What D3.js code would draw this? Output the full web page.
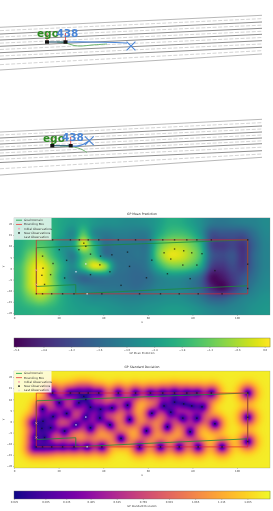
<!DOCTYPE html>
<html><head><meta charset="utf-8">
<script src="https://cdnjs.cloudflare.com/ajax/libs/d3/7.8.5/d3.min.js"></script>
<style>
html,body{margin:0;padding:0;background:#fff;overflow:hidden}
#wrap{position:relative;width:273px;height:511px;filter:blur(0.35px)}
canvas,svg{position:absolute;left:0;top:0}
text{font-family:"DejaVu Sans",sans-serif}
</style></head><body><div id="wrap"></div>
<script>
// Road panels: y of each lane line at the left and right ends
const road1SolidL=[27.3,34,40,46.3,52.7,59.3,70];
const road1SolidR=[15.3,22,28.3,34.3,40.7,47.3,54];
const road2SolidL=[132,138,144,150,156,162.5,175];
const road2SolidR=[119.3,126,132,138,143.7,150.7,157.3];
const solidShade=[0.5,0.8,0.8,0.8,0.8,0.8,0.5];
const road1Green=[[57,42],[66,43],[74,45.5],[82,46],[92,45],[107,44]];
const road1Blue=[[65.5,42],[90,42],[127,43]];
const road2Green=[[60,146],[70,146.5],[78,148],[83,150],[87,152.5]];
const road2Blue=[[70.7,146],[78,145.8],[84,144],[88,141.5]];
const gpTitles=["GP Mean Prediction","GP Standard Deviation"];
const cbLabels=["GP Mean Prediction","GP Standard Deviation"];
const legendLabels=["Goal Domain","Bounding Box","Initial Observations","New Observations","Last Observation"];
const xTicks=[0,20,40,60,80,100];
const yTicks=[20,15,10,5,0,-5,-10,-15,-20];
const meanTicks=[-5.4,-4.8,-4.2,-3.6,-3.0,-2.4,-1.8,-1.2,-0.6,0.0];
const stdTicks=[0.025,0.205,0.325,0.465,0.615,0.765,0.915,1.065,1.215,1.365];
// Observations [x,y]
const newObs=[[17.3,12.8],[25.3,12.8],[29.3,12.8],[33.3,12.8],[38,12.8],[46.8,12.8],[54.5,12.8],[61.2,12.8],[66.7,12.8],[72,12.8],[77.5,12.8],[82,12.8],[88.5,12.8],[104.8,12.8],
[31.3,11.3],[32.2,9.9],[20.3,8.4],[29.1,8.4],[12.8,5.5],[34.3,6.4],[38.8,5.5],[43.9,6.1],[50.9,7.3],[23.6,3.6],[17.5,2.2],[38.5,1.6],[51.8,0.9],[13,0.1],[43,-1.5],[16.4,-2.8],[12.5,-3.1],[34.3,-2.8],[22.7,-4.3],[13.7,-7.2],[48,-7.6],
[10,-11.4],[12.8,-11.4],[16.9,-11.4],[21.8,-11.4],[26.9,-11.4],[39.4,-11.4],[56.3,-11.4],[65.7,-11.4],[74.1,-11.4],[82.6,-11.4],[93.3,-11.4],
[67.3,7],[72,8.7],[76.1,7.9],[79.7,7],[84.3,6.6],[61.8,3.7],[70.3,4.2],[75.7,1.5],[82,1.5],[90.1,-1],[68.8,-2.4],[59.4,-4.2],[79,-4.6],[104.8,1.9],[104.8,-9]];
const initObs=[[10,-0.8],[10,-7.2]];
const lastObs=[[32.2,2],[27.8,-1.5],[32.8,-11.4]];
const boundBox=[[10,12.8],[104.8,12.8],[104.8,-11.4],[10,-11.4]];
const goalDomain=[[10,9.3],[104.8,12.8],[104.8,-7.8],[56,-10],[27.7,-11.4],[27.7,-7.3],[10,-8.1]];
// Mean surface read on a coarse grid (rows top to bottom, cols left to right)
const meanGrid=[
[-2.0,-1.8,-1.7,-1.9,-2.2,-2.4,-2.2,-2.5,-2.7,-2.7,-2.8,-2.8,-2.7,-2.4,-2.0,-2.0,-2.3,-2.7,-3.2,-3.3,-3.2,-3.1,-3.0,-2.8],
[-2.0,-1.7,-1.5,-1.8,-2.3,-2.8,-1.4,-2.8,-3.2,-3.1,-3.1,-3.2,-3.1,-2.2,-1.6,-1.5,-1.8,-2.6,-4.0,-4.0,-4.0,-4.0,-3.4,-2.9],
[-2.0,-1.6,-1.4,-1.8,-2.6,-2.4,-0.2,-1.9,-3.4,-3.3,-3.3,-3.3,-3.2,-1.5,-0.7,-0.6,-1.0,-1.9,-4.2,-4.5,-4.3,-4.6,-3.7,-3.0],
[-1.9,-1.0,-0.6,-1.5,-2.4,-3.1,-1.6,-1.6,-3.2,-3.4,-3.4,-3.3,-3.1,-1.2,-0.2,-0.2,-0.7,-1.6,-3.8,-4.2,-4.0,-4.6,-3.6,-3.0],
[-1.6,-0.5,0.0,-0.8,-2.0,-2.8,-1.5,-0.2,-0.7,-3.0,-3.4,-3.5,-3.2,-2.0,-1.2,-1.1,-1.4,-2.2,-4.3,-4.6,-4.2,-4.5,-3.6,-3.0],
[-1.6,-0.4,0.05,-0.8,-2.2,-3.2,-3.6,-3.3,-3.2,-3.4,-3.5,-3.6,-3.5,-3.0,-2.7,-2.7,-3.0,-3.6,-5.2,-5.1,-4.5,-4.0,-3.4,-2.9],
[-1.6,-0.5,0.0,-0.7,-1.9,-2.6,-3.0,-3.2,-3.3,-3.3,-3.4,-3.5,-3.3,-3.0,-2.9,-2.9,-3.2,-3.7,-4.8,-5.3,-4.6,-3.7,-3.1,-2.8],
[-1.8,-1.2,-0.8,-1.3,-2.0,-2.4,-2.6,-2.8,-2.8,-2.9,-3.0,-3.0,-2.9,-2.8,-2.7,-2.7,-2.9,-3.2,-3.7,-3.8,-3.4,-3.0,-2.8,-2.6],
[-2.0,-1.9,-1.8,-1.9,-2.1,-2.3,-2.4,-2.4,-2.5,-2.6,-2.7,-2.7,-2.6,-2.5,-2.4,-2.4,-2.5,-2.7,-2.9,-3.0,-2.9,-2.8,-2.6,-2.5]];

const W=273,H=511;
const wrap=d3.select("#wrap");
const cv=wrap.append("canvas").attr("width",W).attr("height",H).node();
const ctx=cv.getContext("2d");ctx.fillStyle="#fff";ctx.fillRect(0,0,W,H);
const svg=wrap.append("svg").attr("width",W).attr("height",H);

const xDom=[0,114.8],yDom=[-20.9,22.7];
const meanDom=[-5.44,0.115],stdDom=[0.025,1.495];
const meanColor=d3.scaleSequential(d3.interpolateViridis).domain(meanDom);
const stdColor=d3.scaleSequential(d3.interpolatePlasma).domain(stdDom);
const panels=[{top:217.8,bottom:315,cbTop:338,cbBot:347,color:meanColor,ticks:meanTicks,fmt:d3.format(".1f"),dom:meanDom,i:0,titleY:214,xlY:322.5,cblY:353.8},
 {top:371,bottom:468,cbTop:491,cbBot:499,color:stdColor,ticks:stdTicks,fmt:d3.format(".3f"),dom:stdDom,i:1,titleY:367,xlY:475.5,cblY:507}];
const L=14,R=270;

// roads
function drawRoad(g,left,right,green,blue,ego,oth,X,egoTxt,othTxt){
  const rx=d3.scaleLinear().domain([0,262]).range([0,262]);
  left.forEach((l,i)=>{
    g.append("line").attr("x1",rx(0)).attr("x2",rx(262)).attr("y1",l).attr("y2",right[i])
     .attr("stroke","#222").attr("stroke-opacity",solidShade[i]).attr("stroke-width",0.65);
    if(i<left.length-1){
      g.append("line").attr("x1",rx(0)).attr("x2",rx(262)).attr("y1",(l+left[i+1])/2).attr("y2",(right[i]+right[i+1])/2)
       .attr("stroke","#c8c8c8").attr("stroke-width",0.8).attr("stroke-dasharray","4 1.6");
    }
  });
  const line=d3.line().curve(d3.curveCatmullRom);
  g.append("path").attr("d",line(green)).attr("fill","none").attr("stroke","#6fb56f").attr("stroke-width",1);
  g.append("path").attr("d",line(blue)).attr("fill","none").attr("stroke","#4a86d8").attr("stroke-width",1.2);
  g.append("line").attr("x1",ego[0]).attr("x2",oth[0]).attr("y1",ego[1]).attr("y2",oth[1]).attr("stroke","#2f5f7a").attr("stroke-width",1.2);
  [ego,oth].forEach(p=>{
    g.append("line").attr("x1",p[0]).attr("x2",p[0]).attr("y1",p[1]-9).attr("y2",p[1]).attr("stroke","#d33").attr("stroke-width",0.8);
    g.append("rect").attr("x",p[0]-2).attr("y",p[1]-1.7).attr("width",4).attr("height",3.4).attr("fill","#111");
  });
  const s=4.4;
  g.append("path").attr("d",`M${X[0]-s},${X[1]-s}L${X[0]+s},${X[1]+s}M${X[0]-s},${X[1]+s}L${X[0]+s},${X[1]-s}`).attr("stroke","#4a86d8").attr("stroke-width",1.1).attr("fill","none");
  g.append("text").attr("x",egoTxt[0]).attr("y",egoTxt[1]).attr("fill","#2e8b22").attr("font-size",10.5).attr("font-weight","bold").text("ego");
  g.append("text").attr("x",othTxt[0]).attr("y",othTxt[1]).attr("fill","#4a86d8").attr("font-size",10.5).attr("font-weight","bold").text("438");
}
drawRoad(svg.append("g"),road1SolidL,road1SolidR,road1Green,road1Blue,[47,42],[65.5,42],[131,46],[37,36.8],[56.5,37]);
drawRoad(svg.append("g"),road2SolidL,road2SolidR,road2Green,road2Blue,[52.3,145.7],[70.7,145.7],[89.3,140.7],[43,141.5],[62,140.8]);

// GP std from the observation points
const obsAll=newObs.concat(initObs,lastObs);
const ell=4.1,sig2=1.45*1.45,noise=0.004;
const kf=(a,b)=>Math.exp(-((a[0]-b[0])**2+(a[1]-b[1])**2)/(2*ell*ell));
const n=obsAll.length;
const C=d3.range(n).map(()=>new Float64Array(n));
for(let i=0;i<n;i++)for(let j=0;j<=i;j++){
  let s=kf(obsAll[i],obsAll[j])+(i===j?noise:0);
  for(let k=0;k<j;k++)s-=C[i][k]*C[j][k];
  C[i][j]=i===j?Math.sqrt(Math.max(s,1e-9)):s/C[j][j];
}
function stdAt(p){
  let sum=0;const v=new Float64Array(n);
  for(let i=0;i<n;i++){
    let s=kf(p,obsAll[i]);
    for(let k=0;k<i;k++)s-=C[i][k]*v[k];
    v[i]=s/C[i][i];sum+=v[i]*v[i];
  }
  return Math.sqrt(Math.max(sig2*(1-sum),0)+0.0006);
}
// Catmull-Rom on the mean grid
function cr(a,b,c,d,t){return 0.5*(2*b+(c-a)*t+(2*a-5*b+4*c-d)*t*t+(3*b-a-3*c+d)*t*t*t);}
function meanAt(p){
  const rows=meanGrid.length,cols=meanGrid[0].length;
  const u=(p[0]-xDom[0])/(xDom[1]-xDom[0])*cols-0.5,v=(yDom[1]-p[1])/(yDom[1]-yDom[0])*rows-0.5;
  const iu=Math.floor(u),iv=Math.floor(v),fu=u-iu,fv=v-iv;
  const g=(r,c)=>meanGrid[Math.max(0,Math.min(rows-1,r))][Math.max(0,Math.min(cols-1,c))];
  const r=[-1,0,1,2].map(dr=>cr(g(iv+dr,iu-1),g(iv+dr,iu),g(iv+dr,iu+1),g(iv+dr,iu+2),fu));
  return cr(r[0],r[1],r[2],r[3],fv);
}

const lineGoal=d3.line();
panels.forEach(P=>{
  const x=d3.scaleLinear().domain(xDom).range([L,R]);
  const y=d3.scaleLinear().domain(yDom).range([P.bottom,P.top]);
  const f=P.i===0?meanAt:stdAt;
  for(let py=Math.round(P.top);py<Math.round(P.bottom);py++){
    for(let px=L;px<R;px++){
      ctx.fillStyle=P.color(f([x.invert(px+.5),y.invert(py+.5)]));
      ctx.fillRect(px,py,1,1);
    }
  }
  const g=svg.append("g");
  g.append("text").attr("x",(L+R)/2).attr("y",P.titleY+1).attr("text-anchor","middle").attr("font-size",3.1).attr("fill","#333").text(gpTitles[P.i]);
  g.append("rect").attr("x",L).attr("y",P.top).attr("width",R-L).attr("height",P.bottom-P.top).attr("fill","none").attr("stroke","#777").attr("stroke-opacity",.6).attr("stroke-width",.4);
  const ax=d3.axisBottom(x).tickValues(xTicks).tickSize(1).tickPadding(.8).tickSizeOuter(0);
  const ay=d3.axisLeft(y).tickValues(yTicks).tickSize(1).tickPadding(.8).tickSizeOuter(0).tickFormat(d=>d<0?"\u2212"+(-d):d);
  [[ax,`translate(0,${P.bottom})`],[ay,`translate(${L},0)`]].forEach(([a,t])=>{
    const ga=g.append("g").attr("transform",t).call(a);
    ga.select(".domain").remove();
    ga.selectAll("line").attr("stroke","#555").attr("stroke-width",.3);
    ga.selectAll("text").attr("font-size",2.6).attr("fill","#444").style("font-family",'"DejaVu Sans",sans-serif');
  });
  g.append("text").attr("x",(L+R)/2).attr("y",P.xlY).attr("text-anchor","middle").attr("font-size",2.8).attr("fill","#444").text("x");
  g.append("text").attr("transform",`translate(4,${(P.top+P.bottom)/2}) rotate(-90)`).attr("text-anchor","middle").attr("font-size",2.8).attr("fill","#444").text("y");
  // overlays
  g.append("path").attr("d",lineGoal(goalDomain.map(d=>[x(d[0]),y(d[1])]))+"Z").attr("fill","none").attr("stroke","#1d8a3a").attr("stroke-width",.8);
  g.append("path").attr("d",lineGoal(boundBox.map(d=>[x(d[0]),y(d[1])]))+"Z").attr("fill","none").attr("stroke","#e0202c").attr("stroke-width",.8).attr("stroke-opacity",.85);
  g.selectAll("rect.o").data(newObs).join("rect").attr("class","o").attr("x",d=>x(d[0])-.7).attr("y",d=>y(d[1])-.7).attr("width",1.4).attr("height",1.4).attr("fill","#111").attr("fill-opacity",.7);
  g.selectAll("path.i").data(initObs).join("path").attr("class","i").attr("d",d=>{const a=x(d[0]),b=y(d[1]),s=1.1;return `M${a-s},${b-s}L${a+s},${b+s}M${a-s},${b+s}L${a+s},${b-s}`;}).attr("stroke","#f49ab0").attr("stroke-width",.6).attr("fill","none");
  g.selectAll("rect.l").data(lastObs).join("rect").attr("class","l").attr("x",d=>x(d[0])-.7).attr("y",d=>y(d[1])-.7).attr("width",1.4).attr("height",1.4).attr("fill","#eef").attr("fill-opacity",.8);
  // legend
  const lg=g.append("g");
  lg.append("rect").attr("x",L).attr("y",P.top).attr("width",37.5).attr("height",P.i===0?22:21.5).attr("fill","#fff").attr("fill-opacity",.78);
  legendLabels.forEach((t,i)=>{
    const yy=P.top+2.4+i*4.25;
    lg.append("text").attr("x",24).attr("y",yy+1).attr("font-size",2.9).attr("fill","#333").text(t);
    if(i<2) lg.append("line").attr("x1",16).attr("x2",22).attr("y1",yy).attr("y2",yy).attr("stroke",i===0?"#2fa84f":"#e8504c").attr("stroke-width",.9);
    else lg.append("rect").attr("x",18.2).attr("y",yy-.8).attr("width",1.6).attr("height",1.6).attr("fill",i===2?"#f49ab0":i===3?"#222":"#ddd");
  });
  // colourbar
  const cx=d3.scaleLinear().domain(P.dom).range([L,R]);
  g.append("g").selectAll("rect").data(d3.range(L,R)).join("rect")
   .attr("x",d=>d).attr("y",P.cbTop).attr("width",1.3).attr("height",P.cbBot-P.cbTop).attr("fill",d=>P.color(cx.invert(d+.5)));
  g.append("rect").attr("x",L).attr("y",P.cbTop).attr("width",R-L).attr("height",P.cbBot-P.cbTop).attr("fill","none").attr("stroke","#666").attr("stroke-width",.4);
  const ac=d3.axisBottom(cx).tickValues(P.ticks).tickSize(1).tickPadding(.8).tickSizeOuter(0).tickFormat(d=>{const s=P.fmt(d);return s.replace("-","\u2212");});
  const gc=g.append("g").attr("transform",`translate(0,${P.cbBot})`).call(ac);
  gc.select(".domain").remove();
  gc.selectAll("line").attr("stroke","#555").attr("stroke-width",.3);
  gc.selectAll("text").attr("font-size",2.6).attr("fill","#444").style("font-family",'"DejaVu Sans",sans-serif');
  g.append("text").attr("x",(L+R)/2).attr("y",P.cblY).attr("text-anchor","middle").attr("font-size",2.6).attr("fill","#444").text(cbLabels[P.i]);
});
</script></body></html>
